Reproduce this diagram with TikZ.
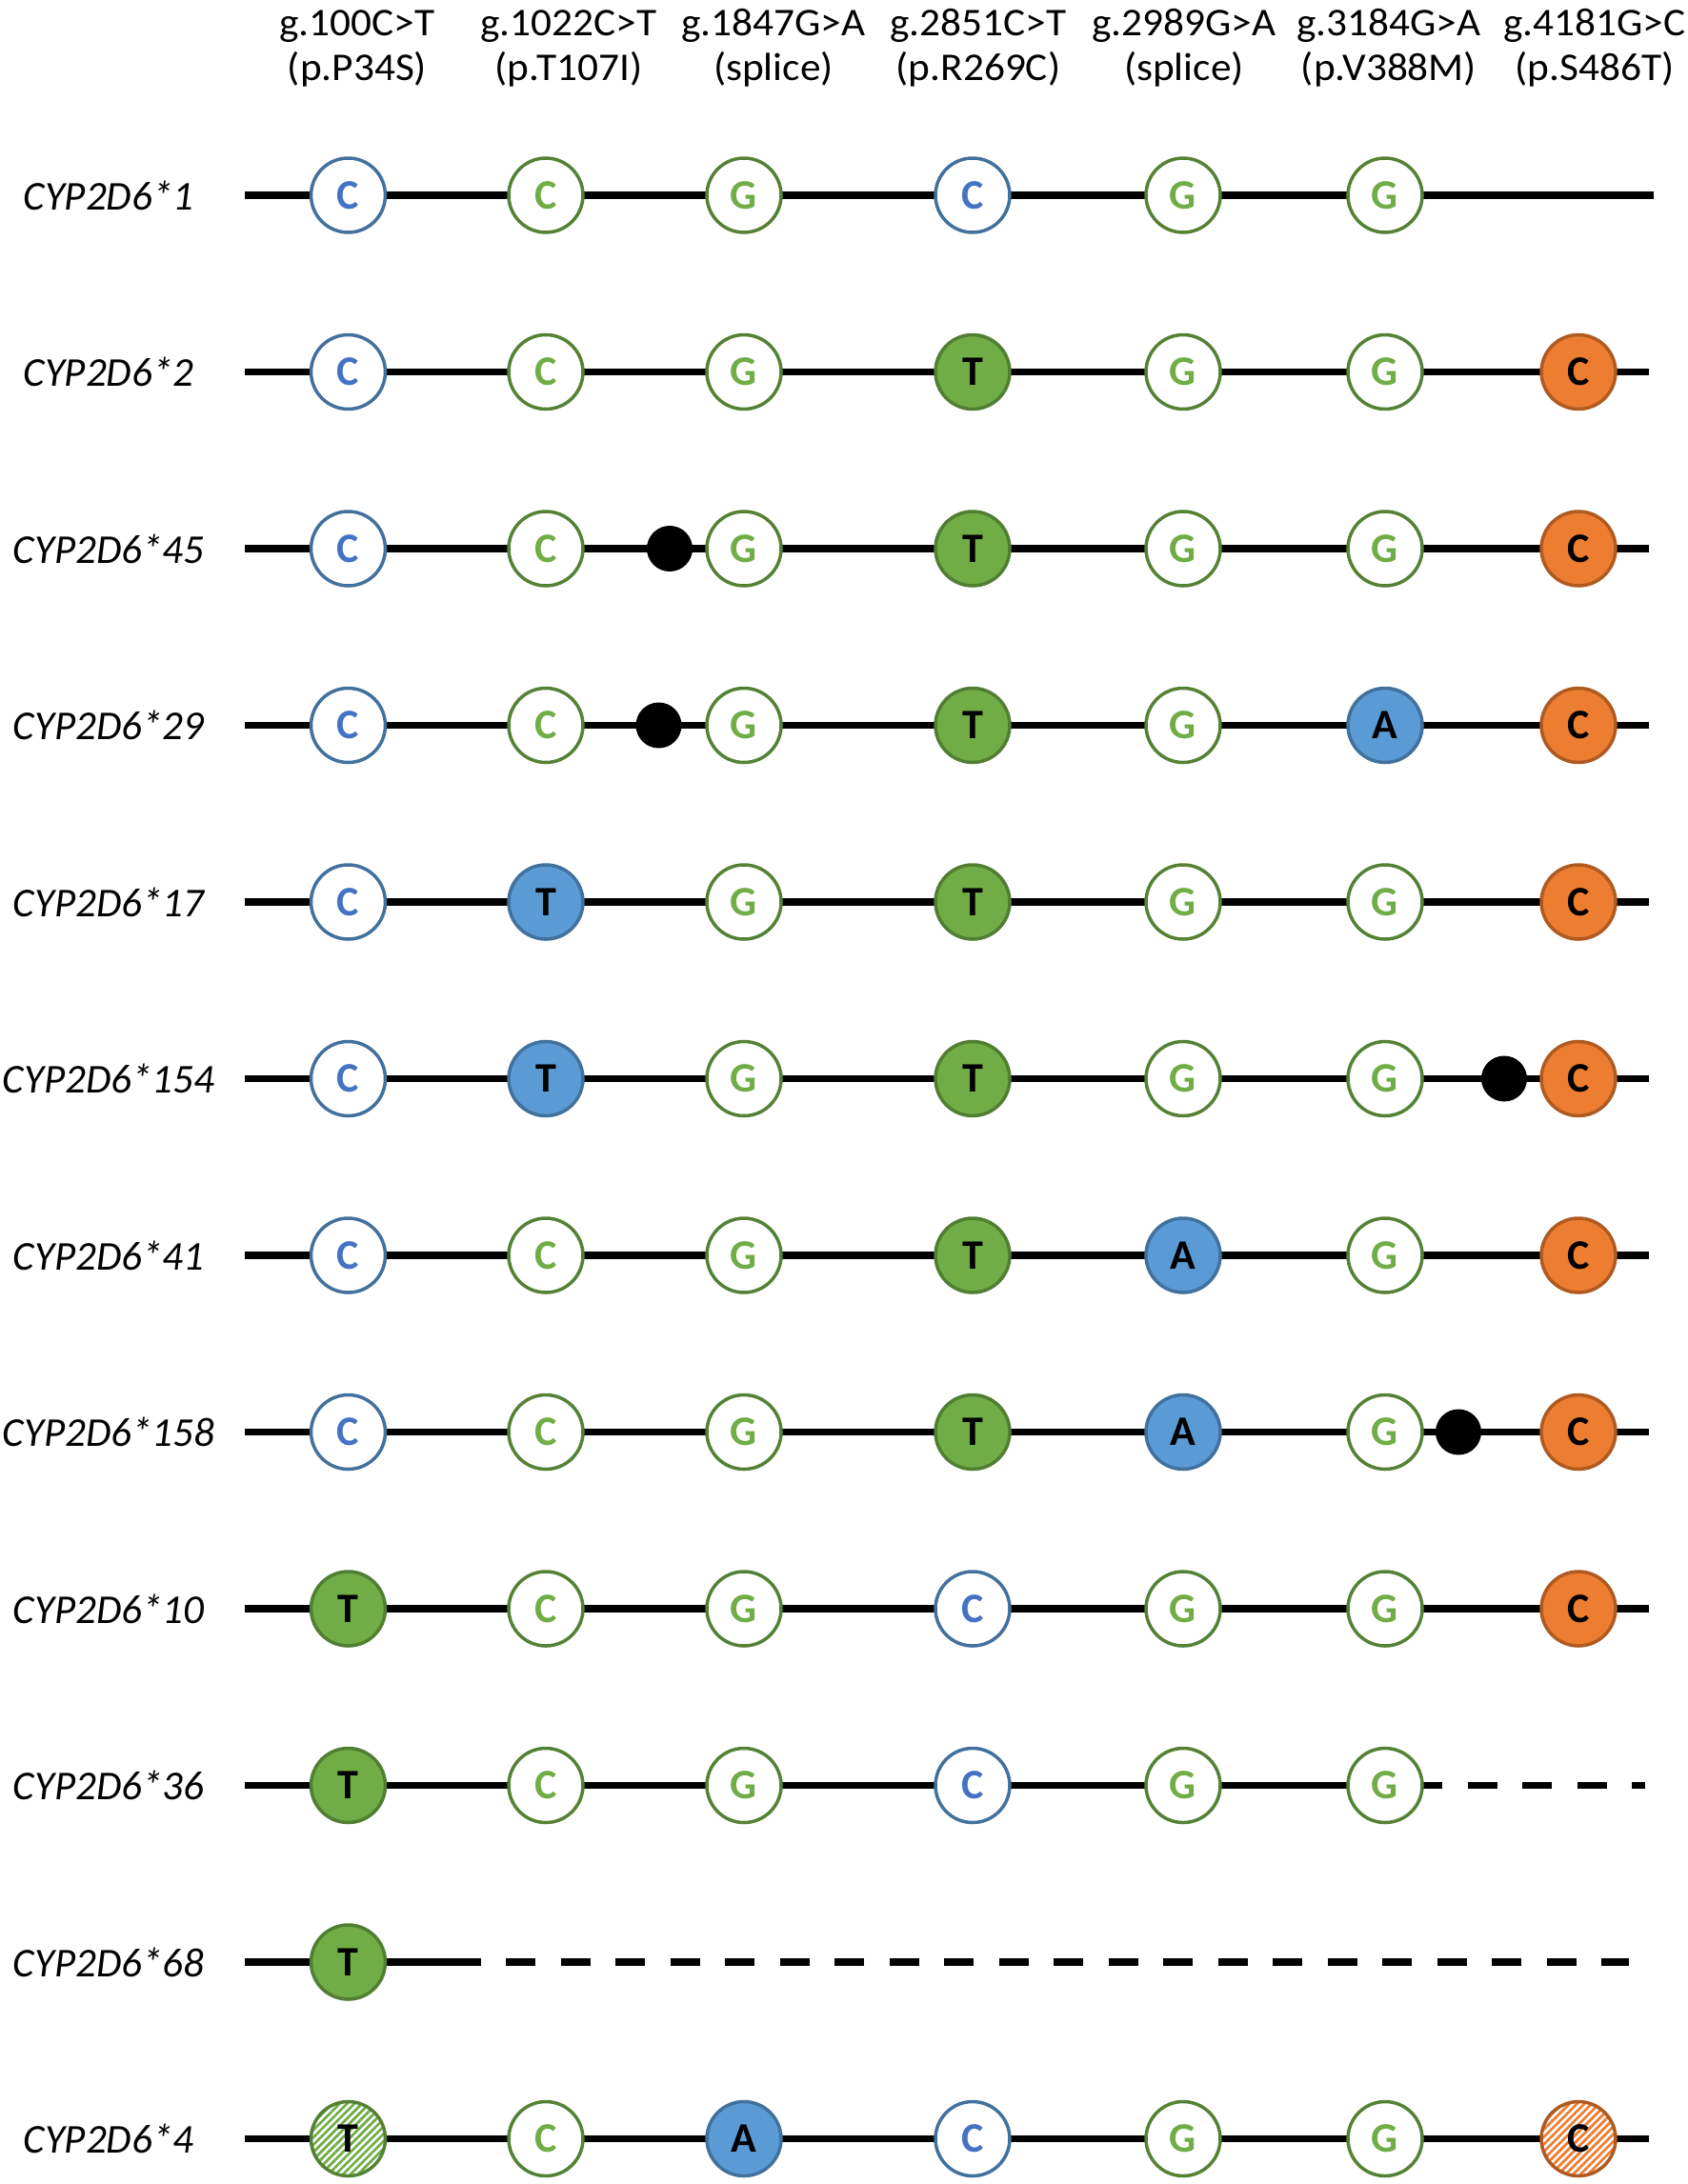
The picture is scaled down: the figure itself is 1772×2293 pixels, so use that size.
\documentclass[tikz,border=0pt]{standalone}
\usepackage{fontspec}
\setmainfont{Carlito}
\usetikzlibrary{backgrounds,patterns.meta}
\definecolor{blueD}{HTML}{41719C}
\definecolor{blueT}{HTML}{4472C4}
\definecolor{blueF}{HTML}{5B9BD5}
\definecolor{greenD}{HTML}{548235}
\definecolor{greenT}{HTML}{70AD47}
\definecolor{greenF}{HTML}{70AD47}
\definecolor{greenE}{HTML}{507E32}
\definecolor{orangeF}{HTML}{ED7D31}
\definecolor{orangeD}{HTML}{AE5A21}
\newcommand{\hwide}[1]{\scalebox{1.05}[1]{#1}}
\begin{document}
\begin{tikzpicture}[x=0.4pt,y=-0.4pt,
  allele/.style={circle,minimum size=31.2pt,inner sep=0pt,line width=1.4pt,
    font=\bfseries\fontsize{17.6}{20}\selectfont},
  ob/.style={allele,draw=blueD,fill=white,text=blueT},
  og/.style={allele,draw=greenD,fill=white,text=greenT},
  fg/.style={allele,draw=greenE,fill=greenF,text=black},
  fb/.style={allele,draw=blueD,fill=blueF,text=black},
  fo/.style={allele,draw=orangeD,fill=orangeF,text=black},
  hg/.style={allele,draw=greenD,preaction={fill=white},
    pattern={Lines[angle=45,distance=2.2pt,line width=1.1pt]},pattern color=greenT,text=black},
  ho/.style={allele,draw=orangeD,preaction={fill=white},
    pattern={Lines[angle=45,distance=2.2pt,line width=1.1pt]},pattern color=orangeF,text=black},
  dot/.style={circle,fill=black,minimum size=19.2pt,inner sep=0pt},
  lab/.style={font=\itshape\fontsize{17.2}{20}\selectfont,inner sep=0pt},
  hdr/.style={font=\fontsize{16.5}{19}\selectfont,inner sep=0pt,anchor=base},
  wire/.style={line width=3pt},
  dwire/.style={line width=3pt,dash pattern=on 12.4pt off 10.6pt}
]
\useasboundingbox (0,0) rectangle (1772,2293);

% headers
\node[hdr] (h1a) at (375,37) {\hwide{g.100C>T}};
\node[hdr] (h1b) at (375,84) {\hwide{(p.P34S)}};
\node[hdr] (h2a) at (597,37) {\hwide{g.1022C>T}};
\node[hdr] (h2b) at (597,84) {\hwide{(p.T107I)}};
\node[hdr] (h3a) at (812,37) {\hwide{g.1847G>A}};
\node[hdr] (h3b) at (812,84) {\hwide{(splice)}};
\node[hdr] (h4a) at (1027,37) {\hwide{g.2851C>T}};
\node[hdr] (h4b) at (1027,84) {\hwide{(p.R269C)}};
\node[hdr] (h5a) at (1243,37) {\hwide{g.2989G>A}};
\node[hdr] (h5b) at (1243,84) {\hwide{(splice)}};
\node[hdr] (h6a) at (1458,37) {\hwide{g.3184G>A}};
\node[hdr] (h6b) at (1458,84) {\hwide{(p.V388M)}};
\node[hdr] (h7a) at (1674,37) {\hwide{g.4181G>C}};
\node[hdr] (h7b) at (1674,84) {\hwide{(p.S486T)}};

% row 1
\node[lab] (L1) at (114,205) {CYP2D6*1};
\coordinate (s1) at (257,205); \coordinate (e1) at (1736,205);
\node[ob] (r1a) at (365.5,205) {C};
\node[og] (r1b) at (573,205) {C};
\node[og] (r1c) at (781,205) {G};
\node[ob] (r1d) at (1021,205) {C};
\node[og] (r1e) at (1242,205) {G};
\node[og] (r1f) at (1454,205) {G};

% row 2
\node[lab] (L2) at (114,390.5) {CYP2D6*2};
\coordinate (s2) at (257,390.5); \coordinate (e2) at (1731,390.5);
\node[ob] (r2a) at (365.5,390.5) {C};
\node[og] (r2b) at (573,390.5) {C};
\node[og] (r2c) at (781,390.5) {G};
\node[fg] (r2d) at (1021,390.5) {T};
\node[og] (r2e) at (1242,390.5) {G};
\node[og] (r2f) at (1454,390.5) {G};
\node[fo] (r2g) at (1657,390.5) {C};

% row 3
\node[lab] (L3) at (114,576) {CYP2D6*45};
\coordinate (s3) at (257,576); \coordinate (e3) at (1731,576);
\node[ob] (r3a) at (365.5,576) {C};
\node[og] (r3b) at (573,576) {C};
\node[dot] (r3x) at (703,576) {};
\node[og] (r3c) at (781,576) {G};
\node[fg] (r3d) at (1021,576) {T};
\node[og] (r3e) at (1242,576) {G};
\node[og] (r3f) at (1454,576) {G};
\node[fo] (r3g) at (1657,576) {C};

% row 4
\node[lab] (L4) at (114,761.5) {CYP2D6*29};
\coordinate (s4) at (257,761.5); \coordinate (e4) at (1731,761.5);
\node[ob] (r4a) at (365.5,761.5) {C};
\node[og] (r4b) at (573,761.5) {C};
\node[dot] (r4x) at (691.5,761.5) {};
\node[og] (r4c) at (781,761.5) {G};
\node[fg] (r4d) at (1021,761.5) {T};
\node[og] (r4e) at (1242,761.5) {G};
\node[fb] (r4f) at (1454,761.5) {A};
\node[fo] (r4g) at (1657,761.5) {C};

% row 5
\node[lab] (L5) at (114,947) {CYP2D6*17};
\coordinate (s5) at (257,947); \coordinate (e5) at (1731,947);
\node[ob] (r5a) at (365.5,947) {C};
\node[fb] (r5b) at (573,947) {T};
\node[og] (r5c) at (781,947) {G};
\node[fg] (r5d) at (1021,947) {T};
\node[og] (r5e) at (1242,947) {G};
\node[og] (r5f) at (1454,947) {G};
\node[fo] (r5g) at (1657,947) {C};

% row 6
\node[lab] (L6) at (114,1132.5) {CYP2D6*154};
\coordinate (s6) at (257,1132.5); \coordinate (e6) at (1731,1132.5);
\node[ob] (r6a) at (365.5,1132.5) {C};
\node[fb] (r6b) at (573,1132.5) {T};
\node[og] (r6c) at (781,1132.5) {G};
\node[fg] (r6d) at (1021,1132.5) {T};
\node[og] (r6e) at (1242,1132.5) {G};
\node[og] (r6f) at (1454,1132.5) {G};
\node[dot] (r6x) at (1579,1132.5) {};
\node[fo] (r6g) at (1657,1132.5) {C};

% row 7
\node[lab] (L7) at (114,1318) {CYP2D6*41};
\coordinate (s7) at (257,1318); \coordinate (e7) at (1731,1318);
\node[ob] (r7a) at (365.5,1318) {C};
\node[og] (r7b) at (573,1318) {C};
\node[og] (r7c) at (781,1318) {G};
\node[fg] (r7d) at (1021,1318) {T};
\node[fb] (r7e) at (1242,1318) {A};
\node[og] (r7f) at (1454,1318) {G};
\node[fo] (r7g) at (1657,1318) {C};

% row 8
\node[lab] (L8) at (114,1503.5) {CYP2D6*158};
\coordinate (s8) at (257,1503.5); \coordinate (e8) at (1731,1503.5);
\node[ob] (r8a) at (365.5,1503.5) {C};
\node[og] (r8b) at (573,1503.5) {C};
\node[og] (r8c) at (781,1503.5) {G};
\node[fg] (r8d) at (1021,1503.5) {T};
\node[fb] (r8e) at (1242,1503.5) {A};
\node[og] (r8f) at (1454,1503.5) {G};
\node[dot] (r8x) at (1531,1503.5) {};
\node[fo] (r8g) at (1657,1503.5) {C};

% row 9
\node[lab] (L9) at (114,1689) {CYP2D6*10};
\coordinate (s9) at (257,1689); \coordinate (e9) at (1731,1689);
\node[fg] (r9a) at (365.5,1689) {T};
\node[og] (r9b) at (573,1689) {C};
\node[og] (r9c) at (781,1689) {G};
\node[ob] (r9d) at (1021,1689) {C};
\node[og] (r9e) at (1242,1689) {G};
\node[og] (r9f) at (1454,1689) {G};
\node[fo] (r9g) at (1657,1689) {C};

% row 10
\node[lab] (L10) at (114,1874.5) {CYP2D6*36};
\coordinate (s10) at (257,1874.5);
\coordinate (d10) at (1483,1874.5); \coordinate (e10) at (1727,1874.5);
\node[fg] (r10a) at (365.5,1874.5) {T};
\node[og] (r10b) at (573,1874.5) {C};
\node[og] (r10c) at (781,1874.5) {G};
\node[ob] (r10d) at (1021,1874.5) {C};
\node[og] (r10e) at (1242,1874.5) {G};
\node[og] (r10f) at (1454,1874.5) {G};

% row 11
\node[lab] (L11) at (114,2060) {CYP2D6*68};
\coordinate (s11) at (257,2060); \coordinate (m11) at (505,2060);
\coordinate (d11) at (531,2060); \coordinate (e11) at (1710,2060);
\node[fg] (r11a) at (365.5,2060) {T};

% row 12
\node[lab] (L12) at (114,2245.5) {CYP2D6*4};
\coordinate (s12) at (257,2245.5); \coordinate (e12) at (1731,2245.5);
\node[hg] (r12a) at (365.5,2245.5) {T};
\node[og] (r12b) at (573,2245.5) {C};
\node[fb] (r12c) at (781,2245.5) {A};
\node[ob] (r12d) at (1021,2245.5) {C};
\node[og] (r12e) at (1242,2245.5) {G};
\node[og] (r12f) at (1454,2245.5) {G};
\node[ho] (r12g) at (1657,2245.5) {C};

\begin{scope}[on background layer]
\draw[wire] (s1) -- (r1a.center) -- (r1b.center) -- (r1c.center) -- (r1d.center) -- (r1e.center) -- (r1f.center) -- (e1);
\draw[wire] (s2) -- (r2a.center) -- (r2b.center) -- (r2c.center) -- (r2d.center) -- (r2e.center) -- (r2f.center) -- (r2g.center) -- (e2);
\draw[wire] (s3) -- (r3a.center) -- (r3b.center) -- (r3x.center) -- (r3c.center) -- (r3d.center) -- (r3e.center) -- (r3f.center) -- (r3g.center) -- (e3);
\draw[wire] (s4) -- (r4a.center) -- (r4b.center) -- (r4x.center) -- (r4c.center) -- (r4d.center) -- (r4e.center) -- (r4f.center) -- (r4g.center) -- (e4);
\draw[wire] (s5) -- (r5a.center) -- (r5b.center) -- (r5c.center) -- (r5d.center) -- (r5e.center) -- (r5f.center) -- (r5g.center) -- (e5);
\draw[wire] (s6) -- (r6a.center) -- (r6b.center) -- (r6c.center) -- (r6d.center) -- (r6e.center) -- (r6f.center) -- (r6x.center) -- (r6g.center) -- (e6);
\draw[wire] (s7) -- (r7a.center) -- (r7b.center) -- (r7c.center) -- (r7d.center) -- (r7e.center) -- (r7f.center) -- (r7g.center) -- (e7);
\draw[wire] (s8) -- (r8a.center) -- (r8b.center) -- (r8c.center) -- (r8d.center) -- (r8e.center) -- (r8f.center) -- (r8x.center) -- (r8g.center) -- (e8);
\draw[wire] (s9) -- (r9a.center) -- (r9b.center) -- (r9c.center) -- (r9d.center) -- (r9e.center) -- (r9f.center) -- (r9g.center) -- (e9);
\draw[wire] (s10) -- (r10a.center) -- (r10b.center) -- (r10c.center) -- (r10d.center) -- (r10e.center) -- (r10f.center);
\draw[dwire] (d10) -- (e10);
\draw[wire] (s11) -- (r11a.center) -- (m11);
\draw[dwire] (d11) -- (e11);
\draw[wire] (s12) -- (r12a.center) -- (r12b.center) -- (r12c.center) -- (r12d.center) -- (r12e.center) -- (r12f.center) -- (r12g.center) -- (e12);
\end{scope}
\end{tikzpicture}
\end{document}
